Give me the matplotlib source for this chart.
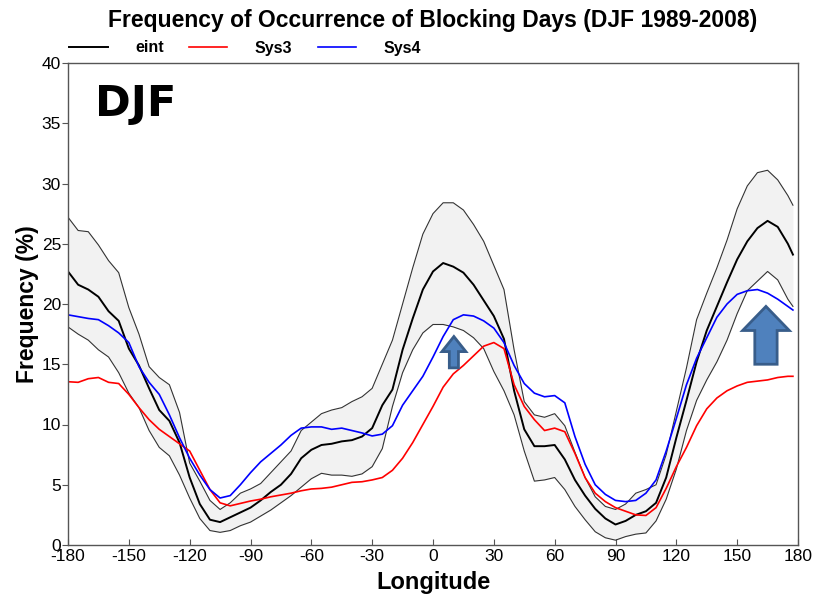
import matplotlib
matplotlib.use("Agg")
import matplotlib.pyplot as plt
import matplotlib.patches as mpatches
import numpy as np

lon = [-180, -175, -170, -165, -160, -155, -150, -145, -140, -135, -130, -125,
       -120, -115, -110, -105, -100, -95, -90, -85, -80, -75, -70, -65,
       -60, -55, -50, -45, -40, -35, -30, -25, -20, -15, -10, -5,
       0, 5, 10, 15, 20, 25, 30, 35, 40, 45, 50, 55,
       60, 65, 70, 75, 80, 85, 90, 95, 100, 105, 110, 115,
       120, 125, 130, 135, 140, 145, 150, 155, 160, 165, 170, 175, 177.5]

eint_mean = [22.7, 21.6, 21.2, 20.6, 19.4, 18.6, 16.3, 14.9, 13.0, 11.2, 10.3, 8.5,
             5.6, 3.4, 2.1, 1.9, 2.3, 2.7, 3.1, 3.7, 4.4, 5.0, 5.9, 7.2,
             7.9, 8.3, 8.4, 8.6, 8.7, 9.0, 9.7, 11.6, 12.9, 16.2, 18.8, 21.2,
             22.7, 23.4, 23.1, 22.6, 21.6, 20.3, 19.0, 17.1, 12.8, 9.6, 8.2, 8.2,
             8.3, 7.1, 5.4, 4.1, 3.0, 2.2, 1.7, 2.0, 2.5, 2.8, 3.5, 5.6,
             8.9, 12.0, 15.2, 17.8, 19.8, 21.8, 23.7, 25.2, 26.3, 26.9, 26.4, 25.0, 24.1]

eint_upper = [27.2, 26.1, 26.0, 24.9, 23.6, 22.6, 19.7, 17.5, 14.8, 13.9, 13.3, 11.0,
              6.8, 5.3, 3.7, 2.95, 3.5, 4.3, 4.65, 5.1, 6.0, 6.9, 7.8, 9.5,
              10.2, 10.9, 11.2, 11.4, 11.9, 12.3, 13.0, 15.0, 17.0, 20.0, 23.0, 25.8,
              27.5, 28.4, 28.4, 27.8, 26.6, 25.2, 23.2, 21.2, 16.2, 11.9, 10.8, 10.6,
              10.9, 9.9, 7.7, 5.6, 4.0, 3.2, 2.95, 3.4, 4.3, 4.6, 5.0, 7.5,
              11.1, 14.7, 18.7, 20.9, 23.0, 25.3, 27.9, 29.8, 30.9, 31.1, 30.3, 29.0, 28.2]

eint_lower = [18.1, 17.5, 17.0, 16.2, 15.6, 14.3, 12.6, 11.4, 9.5, 8.1, 7.4, 5.8,
              3.9, 2.2, 1.2, 1.05, 1.2, 1.6, 1.9, 2.4, 2.9, 3.5, 4.1, 4.8,
              5.5, 5.95, 5.8, 5.8, 5.7, 5.9, 6.5, 8.0, 11.5, 14.3, 16.2, 17.6,
              18.3, 18.3, 18.1, 17.8, 17.2, 16.3, 14.4, 12.8, 10.8, 7.8, 5.3, 5.4,
              5.6, 4.6, 3.2, 2.1, 1.1, 0.6, 0.4, 0.7, 0.9, 1.0, 2.0, 3.8,
              6.3, 9.5, 12.0, 13.7, 15.2, 17.0, 19.2, 21.1, 21.9, 22.7, 22.0, 20.4, 19.8]

sys3 = [13.55, 13.5, 13.8, 13.9, 13.5, 13.4, 12.5, 11.4, 10.4, 9.6, 9.0, 8.4,
        7.8, 6.2, 4.6, 3.5, 3.25, 3.45, 3.65, 3.8, 4.0, 4.15, 4.3, 4.5,
        4.65, 4.7, 4.8, 5.0, 5.2, 5.25, 5.4, 5.6, 6.2, 7.2, 8.5, 10.0,
        11.5, 13.1, 14.2, 14.9, 15.7, 16.5, 16.8, 16.3, 13.3, 11.5, 10.4, 9.5,
        9.7, 9.4, 7.6, 5.6, 4.3, 3.6, 3.1, 2.8, 2.5, 2.45, 3.1, 4.7,
        6.5, 8.1, 9.9, 11.3, 12.2, 12.8, 13.2, 13.5, 13.6, 13.7, 13.9, 14.0, 14.0]

sys4 = [19.1, 18.95, 18.8, 18.7, 18.2, 17.6, 16.8, 14.8, 13.5, 12.5, 10.8, 8.9,
        7.2, 5.8, 4.6, 3.9, 4.1, 5.0, 6.0, 6.9, 7.6, 8.3, 9.1, 9.7,
        9.8, 9.8, 9.6, 9.7, 9.5, 9.3, 9.05, 9.2, 9.9, 11.6, 12.8, 14.0,
        15.6, 17.3, 18.7, 19.1, 19.0, 18.6, 18.0, 16.8, 14.9, 13.4, 12.6, 12.3,
        12.4, 11.8, 9.0, 6.7, 5.0, 4.2, 3.7, 3.6, 3.7, 4.3, 5.4, 7.8,
        10.5, 13.3, 15.5, 17.2, 18.9, 20.0, 20.8, 21.1, 21.2, 20.9, 20.4, 19.8, 19.5]

x_ticks = [-180, -150, -120, -90, -60, -30, 0, 30, 60, 90, 120, 150, 180]
y_ticks = [0, 5, 10, 15, 20, 25, 30, 35, 40]

plt.rcParams['font.family'] = ['Liberation Sans', 'DejaVu Sans']
plt.rcParams['axes.unicode_minus'] = False

fig = plt.figure(figsize=(8.26, 5.95), dpi=100)
ax = fig.add_axes([68/826, 1-545/595, 730/826, 482/595])

ax.fill_between(lon, eint_lower, eint_upper, color='#f2f2f2', lw=0)
ax.plot(lon, eint_upper, color='#333333', lw=0.8)
ax.plot(lon, eint_lower, color='#333333', lw=0.8)
ax.plot(lon, eint_mean, color='black', lw=1.4, label='eint')
ax.plot(lon, sys3, color='#ff0000', lw=1.2, label='Sys3')
ax.plot(lon, sys4, color='#0000ff', lw=1.2, label='Sys4')

ax.set_xlim(-180, 180)
ax.set_ylim(0, 40)
ax.set_xticks(x_ticks)
ax.set_yticks(y_ticks)
ax.tick_params(axis='x', direction='in', length=4, labelsize=12.5, pad=3, color='#555555')
ax.tick_params(axis='y', direction='out', length=4, labelsize=12.5, pad=1, color='#555555')
for s in ax.spines.values():
    s.set_color('#555555')
    s.set_linewidth(1.0)

ax.set_xlabel('Longitude', fontsize=17, fontweight='bold', labelpad=5)
ax.set_ylabel('Frequency (%)', fontsize=16.5, fontweight='bold', labelpad=2)

fig.text(433/826, 1-20/595, 'Frequency of Occurrence of Blocking Days (DJF 1989-2008)',
         ha='center', va='center', fontsize=16.5, fontweight='bold')

ax.text(0.037, 0.915, 'DJF', transform=ax.transAxes, fontsize=31, fontweight='bold',
        family='DejaVu Sans', ha='left', va='center')

leg = ax.legend(loc='center left', bbox_to_anchor=(0.002, 1 + 15/482), ncol=3, frameon=False,
                handlelength=2.4, handletextpad=1.7, columnspacing=1.6,
                prop={'size': 11.5, 'weight': 'bold'}, borderpad=0, borderaxespad=0)

# annotation arrows
for (xc, yb, yt, bw, hw, hl) in [(10.3, 14.7, 17.3, 4.5, 11.8, 1.25),
                                 (164.2, 15.0, 19.8, 11.0, 23.0, 2.0)]:
    arr = mpatches.FancyArrow(xc, yb, 0, yt - yb, width=bw, head_width=hw,
                              head_length=hl, length_includes_head=True,
                              facecolor='#4f81bd', edgecolor='#385d8a', lw=2.0, zorder=5)
    ax.add_patch(arr)

fig.savefig('out.png', dpi=100)
